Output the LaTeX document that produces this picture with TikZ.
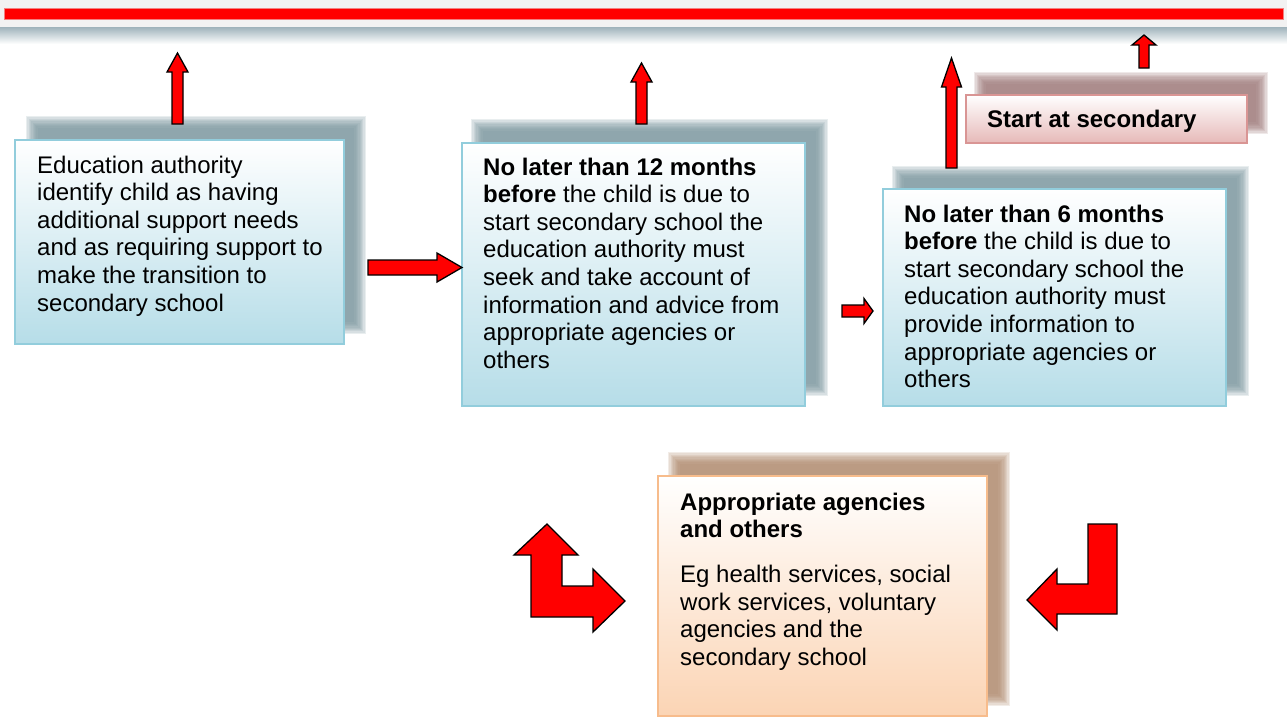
\documentclass[tikz,border=0pt]{standalone}
\usepackage{fontspec}
\setmainfont{Liberation Sans}
\usetikzlibrary{fit}
\definecolor{bluebd}{HTML}{92CDDC}
\definecolor{bluebot}{HTML}{B6DDE8}
\definecolor{blueshadow}{HTML}{7A969F}
\definecolor{orangebd}{HTML}{F7BC8C}
\definecolor{orangebot}{HTML}{FBD4B4}
\definecolor{orangeshadow}{HTML}{B08A6C}
\definecolor{pinkbd}{HTML}{D99594}
\definecolor{pinkbot}{HTML}{E6B9B8}
\definecolor{pinkshadow}{HTML}{9E7878}
\definecolor{arrowred}{HTML}{FF0000}
\definecolor{bandgrey}{HTML}{F2F2F2}
\definecolor{bandshadow}{HTML}{9FB3BB}
\definecolor{rededge}{HTML}{F28080}
\tikzset{
  box/.style={inner sep=0pt, line width=2pt},
  bluebox/.style={box, draw=bluebd, top color=white, bottom color=bluebot},
  orangebox/.style={box, draw=orangebd, top color=white, bottom color=orangebot},
  pinkbox/.style={box, draw=pinkbd, top color=white, bottom color=pinkbot},
  blockarrow/.style={fill=arrowred, draw=black, line width=1.3pt, line join=miter},
  txt/.style={anchor=base west, inner sep=0pt},
}
\newcommand\mysoftshadow[5]{%
  \foreach \k in {0,...,9}{%
    \fill[#5, opacity=0.16] (#1-6+1.3*\k, #2-6+1.3*\k) rectangle (#3+6-1.3*\k, #4+6-1.3*\k);
  }}
\newcommand\myuparrow[6]{% cx, shaft half, head half, tip, head base, bottom
  \draw[blockarrow] (#1-#2,#6) -- (#1-#2,#5) -- (#1-#3,#5) -- (#1,#4) -- (#1+#3,#5) -- (#1+#2,#5) -- (#1+#2,#6) -- cycle;}
\newcommand\myrightarrow[6]{% cy, shaft half, head half, start, head base, tip
  \draw[blockarrow] (#4,#1-#2) -- (#5,#1-#2) -- (#5,#1-#3) -- (#6,#1) -- (#5,#1+#3) -- (#5,#1+#2) -- (#4,#1+#2) -- cycle;}
\newcommand\mytext[1]{\parbox[t]{420pt}{\raggedright\fontsize{24}{27.6}\selectfont #1}}
\begin{document}
\begin{tikzpicture}[x=1pt,y=-1pt]
\useasboundingbox (0,0) rectangle (1287,718);
\clip (0,0) rectangle (1287,718);
\fill[white] (0,0) rectangle (1287,718);
% top banner
\fill[bandgrey] (0,0) rectangle (1287,27);
\node[inner sep=0pt, top color=bandshadow, bottom color=white, fit={(0,27)(1287,44)}] (bandsh) {};
\fill[arrowred, draw=rededge, line width=1pt] (4,8) rectangle (1283,19.5);
% shadows
\mysoftshadow{32}{122}{360}{328}{blueshadow}
\mysoftshadow{477}{125}{822}{390}{blueshadow}
\mysoftshadow{898}{172}{1243}{390}{blueshadow}
\mysoftshadow{980}{78}{1262}{128}{pinkshadow}
\mysoftshadow{674}{458}{1004}{700}{orangeshadow}
% boxes
\node[bluebox, fit={(15,140)(344,344)}] (b1) {};
\node[bluebox, fit={(462,143)(805,406)}] (b2) {};
\node[bluebox, fit={(883,189)(1226,406)}] (b3) {};
\node[pinkbox, fit={(966,95)(1247,143)}] (st) {};
\node[orangebox, fit={(658,476)(987,716)}] (b4) {};
% texts
\node[txt] (t1) at (37,173) {\mytext{Education authority\\identify child as having\\additional support needs\\and as requiring support to\\make the transition to\\secondary school}};
\node[txt] (t2) at (483,175) {\mytext{\textbf{No later than 12 months}\\\textbf{before} the child is due to\\start secondary school the\\education authority must\\seek and take account of\\information and advice from\\appropriate agencies or\\others}};
\node[txt] (t3) at (904,222) {\mytext{\textbf{No later than 6 months}\\\textbf{before} the child is due to\\start secondary school the\\education authority must\\provide information to\\appropriate agencies or\\others}};
\node[txt] (ts) at (987,127.5) {\mytext{\textbf{Start at secondary}}};
\node[txt] (t4) at (680,510) {\mytext{\textbf{Appropriate agencies}\\\textbf{and others}\par\vspace{17.4pt}Eg health services, social\\work services, voluntary\\agencies and the\\secondary school}};
% up arrows
\myuparrow{177.5}{5.5}{10.5}{53}{72}{124}
\myuparrow{641.5}{5.5}{10.5}{63}{82}{124}
\myuparrow{951.5}{5.5}{10}{58}{87}{168}
\myuparrow{1144}{5}{12}{35}{45}{68}
% right arrows
\myrightarrow{267.5}{7.5}{14.5}{368}{437}{462}
\myrightarrow{311}{6}{12.5}{842}{864}{873}
% bent arrows
\draw[blockarrow] (531,617) -- (531,555) -- (514,555) -- (547,524) -- (578,555) -- (562,555) -- (562,586) -- (593,586) -- (593,569) -- (625,601) -- (593,632) -- (593,617) -- cycle;
\draw[blockarrow] (1117,524) -- (1117,614) -- (1057,614) -- (1057,630) -- (1027,600) -- (1057,569) -- (1057,584) -- (1088,584) -- (1088,524) -- cycle;
\end{tikzpicture}
\end{document}
